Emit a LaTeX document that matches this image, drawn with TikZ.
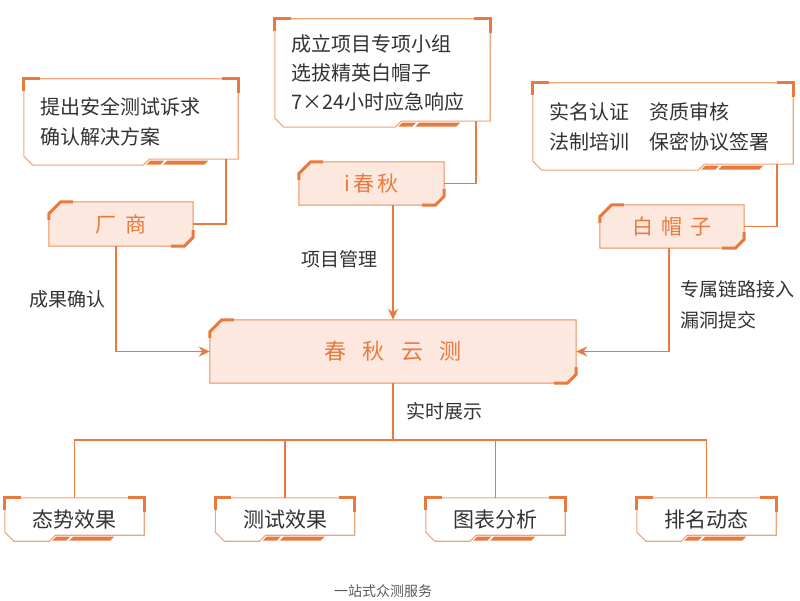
\documentclass[tikz,border=0pt]{standalone}
\usepackage{fontspec}
\setmainfont{Noto Sans CJK SC}
\usetikzlibrary{arrows.meta,positioning,backgrounds}
\definecolor{accent}{HTML}{E87A3E}
\definecolor{softline}{HTML}{F0A47A}
\definecolor{tagline}{HTML}{EC8E5A}
\definecolor{tagfill}{HTML}{FDE8DF}
\definecolor{inkgray}{HTML}{333333}
\definecolor{capgray}{HTML}{5A5A5A}

% white panel: thin outline, cut corner, corner marks, stripes
\newcommand{\panelframe}[1]{%
  \begin{scope}[on background layer]
  \draw[softline,line width=1.1pt,fill=white]
    ([yshift=9pt]#1.south west) -- ([xshift=9pt]#1.south west)
    -- ([xshift=-95pt]#1.south east) -- ([xshift=-89pt,yshift=6pt]#1.south east)
    -- ([yshift=6pt]#1.south east) -- (#1.north east) -- (#1.north west) -- cycle;
  \end{scope}
  \draw[accent,line width=3pt] ([yshift=-12pt]#1.north west) -- (#1.north west) -- ([xshift=16pt]#1.north west);
  \draw[accent,line width=3pt] ([xshift=-16pt]#1.north east) -- (#1.north east) -- ([yshift=-14pt]#1.north east);
  \fill[accent] ([xshift=-92pt,yshift=0.5pt]#1.south east) -- ([xshift=-78pt,yshift=0.5pt]#1.south east)
    -- ([xshift=-74pt,yshift=4.5pt]#1.south east) -- ([xshift=-88pt,yshift=4.5pt]#1.south east) -- cycle;
  \fill[accent] ([xshift=-75pt,yshift=0.5pt]#1.south east) -- ([xshift=-34pt,yshift=0.5pt]#1.south east)
    -- ([xshift=-30pt,yshift=4.5pt]#1.south east) -- ([xshift=-71pt,yshift=4.5pt]#1.south east) -- cycle;
}

% pink tag: two cut corners with thick marks
\newcommand{\tagframe}[1]{%
  \begin{scope}[on background layer]
  \draw[tagline,line width=1pt,fill=tagfill]
    ([yshift=-12pt]#1.north west) -- ([xshift=12pt]#1.north west) -- (#1.north east)
    -- ([yshift=9pt]#1.south east) -- ([xshift=-9pt]#1.south east) -- (#1.south west) -- cycle;
  \end{scope}
  \draw[accent,line width=3pt] ([yshift=-18pt]#1.north west) -- ([yshift=-12pt]#1.north west)
    -- ([xshift=12pt]#1.north west) -- ([xshift=24pt]#1.north west);
  \draw[accent,line width=3pt] ([yshift=16pt]#1.south east) -- ([yshift=9pt]#1.south east)
    -- ([xshift=-9pt]#1.south east) -- ([xshift=-22pt]#1.south east);
}

\begin{document}
\begin{tikzpicture}[x=1pt,y=1pt,
  panel/.style={inner xsep=16pt,inner ysep=0pt,text=inkgray,align=left,
    font=\fontsize{20}{30}\selectfont},
  result/.style={panel,align=center,text width=107pt,minimum height=43pt,
    font=\fontsize{21}{24}\selectfont},
  tag/.style={inner sep=0pt,text=accent,font=\fontsize{21}{24}\selectfont},
  note/.style={inner sep=0pt,text=inkgray,align=left,font=\fontsize{19}{31}\selectfont},
  link/.style={accent,line width=1.8pt},
  linkarrow/.style={link,-{Stealth[length=11pt,width=10pt]}}]

\useasboundingbox (0,0) rectangle (800,600);

% ===== TOP ROW: DESCRIPTION PANELS =====
\node[panel,text width=182pt,minimum height=86pt] (vendorinfo) at (131,478)
  {提出安全测试诉求\\确认解决方案};
\node[panel,text width=183pt,minimum height=108pt,font=\fontsize{20}{29}\selectfont] (teaminfo) at (382.5,527)
  {成立项目专项小组\\选拔精英白帽子\\7×24小时应急响应};
\node[panel,text width=228pt,minimum height=87pt] (hackerinfo) at (663,473.5)
  {实名认证\hspace{1em}资质审核\\法制培训\hspace{1em}保密协议签署};
\panelframe{vendorinfo}
\panelframe{teaminfo}
\panelframe{hackerinfo}

% ===== ROLE TAGS =====
\node[tag,minimum width=144pt,minimum height=44pt] (vendor) at (121,376) {厂\hspace{10pt}商};
\node[tag,minimum width=145pt,minimum height=43pt] (ichunqiu) at (371.5,416.5) {i\,春\,秋};
\node[tag,minimum width=144pt,minimum height=43pt] (hacker) at (672,373.5) {白\hspace{8pt}帽\hspace{8pt}子};
\tagframe{vendor}
\tagframe{ichunqiu}
\tagframe{hacker}

% ===== CENTRE PLATFORM =====
\node[tag,minimum width=366pt,minimum height=63pt,font=\fontsize{22}{26}\selectfont] (platform) at (393,248.5)
  {春\hspace{0.75em}秋\hspace{0.75em}云\hspace{0.75em}测};
\tagframe{platform}

% ===== RESULTS ROW =====
\node[result] (situation) at (74.5,80.5) {态势效果};
\node[result] (testing) at (285,80.5) {测试效果};
\node[result] (charts) at (495.5,80.5) {图表分析};
\node[result] (ranking) at (706.5,80.5) {排名动态};
\panelframe{situation}
\panelframe{testing}
\panelframe{charts}
\panelframe{ranking}

% Connectors: panels to tags
\draw[link] ([xshift=-12pt,yshift=6pt]vendorinfo.south east) |- (vendor.east);
\draw[link] ([xshift=-14pt,yshift=6pt]teaminfo.south east) |- (ichunqiu.east);
\draw[link] ([xshift=-16pt,yshift=6pt]hackerinfo.south east) |- (hacker.east);

% Connectors: tags to platform
\draw[linkarrow] ([xshift=-5pt]vendor.south) |- (platform.west);
\draw[linkarrow] (ichunqiu.south -| platform.north) -- (platform.north);
\draw[linkarrow] ([xshift=-3pt]hacker.south) |- (platform.east);

% Bus to results
\coordinate (bus) at (393,160);
\draw[link] (platform.south) -- (bus);
\draw[link] (situation.north) |- (bus) -| (ranking.north);
\draw[link] (testing.north) -- (testing.north |- bus);
\draw[link] (charts.north) -- (charts.north |- bus);

% Edge labels
\node[note] (confirm) at (67,301) {成果确认};
\node[note] (manage) at (339,341) {项目管理};
\node[note] (display) at (444,189) {实时展示};
\node[note,anchor=west] (submit) at (680,295.5) {专属链路接入\\漏洞提交};

% Caption
\node[inner sep=0pt,text=capgray,font=\fontsize{14}{16}\selectfont] (caption) at (383,9) {一站式众测服务};

\end{tikzpicture}
\end{document}
